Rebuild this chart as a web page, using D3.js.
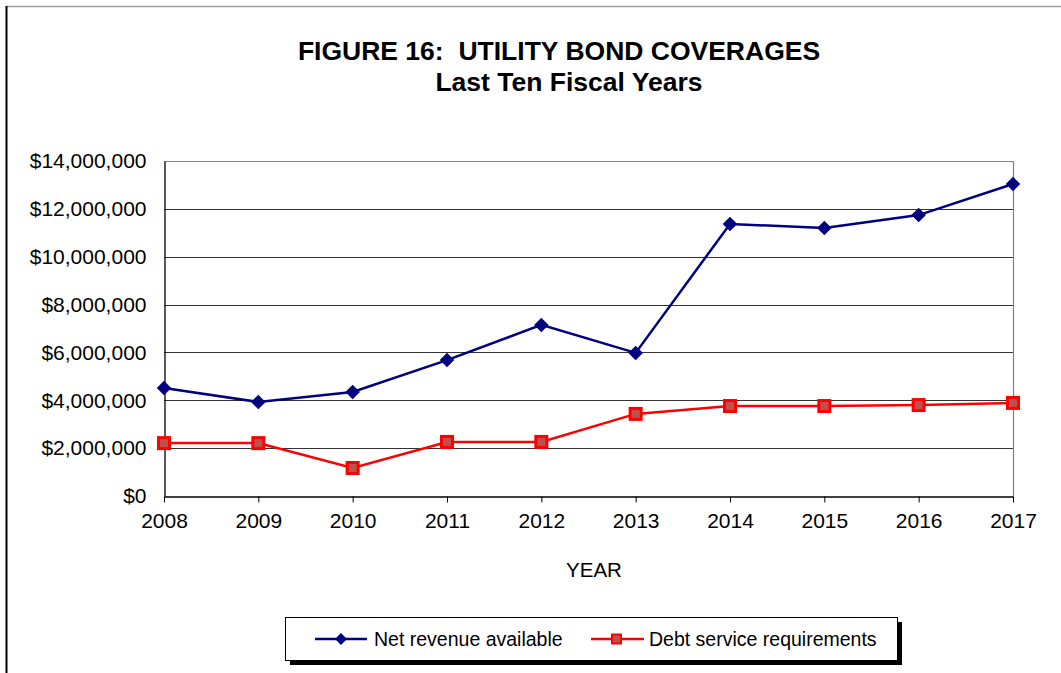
<!DOCTYPE html>
<html>
<head>
<meta charset="utf-8">
<style>
  body { margin: 0; background: #fff; }
  svg { display: block; }
</style>
</head>
<body>
<svg width="1061" height="673" font-family="'Liberation Sans', Arial, sans-serif"></svg>

<script src="https://d3js.org/d3.v7.min.js"></script>

<script>

var years = [2008, 2009, 2010, 2011, 2012, 2013, 2014, 2015, 2016, 2017];
var netRevenue = [4510000, 3930000, 4350000, 5680000, 7150000, 5980000, 11370000, 11200000, 11740000, 13040000];
var debtService = [2210000, 2210000, 1170000, 2260000, 2260000, 3430000, 3760000, 3760000, 3800000, 3890000];
var yTicks = [0, 2000000, 4000000, 6000000, 8000000, 10000000, 12000000, 14000000];

var svg = d3.select("svg"),
    width = +svg.attr("width"),
    height = +svg.attr("height");

var margin = {top: 161, right: 48, bottom: 177, left: 164};

// outer frame (only top and left edges are visible)
svg.append("line")
    .attr("x1", 6.5).attr("x2", width).attr("y1", 6.5).attr("y2", 6.5)
    .attr("stroke", "#a0a0a0").attr("stroke-width", 1.5);
svg.append("line")
    .attr("x1", 6.5).attr("x2", 6.5).attr("y1", 6).attr("y2", height)
    .attr("stroke", "#000").attr("stroke-width", 2);

// title
svg.append("text")
    .attr("x", 559).attr("y", 60)
    .attr("text-anchor", "middle")
    .attr("font-weight", "bold").attr("font-size", 26.5)
    .attr("xml:space", "preserve")
    .text("FIGURE 16:  UTILITY BOND COVERAGES");
svg.append("text")
    .attr("x", 569).attr("y", 91)
    .attr("text-anchor", "middle")
    .attr("font-weight", "bold").attr("font-size", 26.5)
    .text("Last Ten Fiscal Years");

var x = d3.scalePoint()
    .domain(years)
    .range([margin.left, width - margin.right]);

var y = d3.scaleLinear()
    .domain([0, 14000000])
    .range([height - margin.bottom, margin.top]);

var fmt = d3.format("$,");

// gridlines
svg.append("g")
    .selectAll("line")
    .data(yTicks.slice(1))
    .enter().append("line")
      .attr("x1", margin.left).attr("x2", width - margin.right)
      .attr("y1", function(d) { return Math.round(y(d)) + 0.5; })
      .attr("y2", function(d) { return Math.round(y(d)) + 0.5; })
      .attr("stroke", function(d) { return d === 14000000 ? "#808080" : "#333"; })
      .attr("stroke-width", 1.2);

// right border of plot
svg.append("line")
    .attr("x1", width - margin.right + 0.5).attr("x2", width - margin.right + 0.5)
    .attr("y1", margin.top).attr("y2", height - margin.bottom)
    .attr("stroke", "#808080").attr("stroke-width", 1.2);

// y axis
var yAxis = svg.append("g")
    .attr("transform", "translate(" + (margin.left + 0.5) + ",0)")
    .call(d3.axisLeft(y).tickValues(yTicks).tickFormat(fmt).tickSize(0).tickPadding(18));
yAxis.select(".domain").attr("stroke", "#000").attr("stroke-width", 1.3);
yAxis.selectAll("text")
    .attr("font-size", 21).attr("fill", "#000")
    .attr("font-family", "'Liberation Sans', Arial, sans-serif");

// x axis
var xAxis = svg.append("g")
    .attr("transform", "translate(0," + (Math.round(y(0)) + 0.5) + ")")
    .call(d3.axisBottom(x).tickSize(6).tickSizeOuter(0).tickPadding(11));
xAxis.select(".domain").attr("stroke", "#000").attr("stroke-width", 1.3);
xAxis.selectAll(".tick line").attr("stroke", "#000");
xAxis.selectAll("text")
    .attr("font-size", 21).attr("fill", "#000")
    .attr("font-family", "'Liberation Sans', Arial, sans-serif");

svg.append("text")
    .attr("x", 594).attr("y", 577)
    .attr("text-anchor", "middle")
    .attr("font-size", 20.5)
    .text("YEAR");

var line = d3.line()
    .x(function(d, i) { return x(years[i]); })
    .y(function(d) { return y(d); });

var diamond = d3.symbol().type(d3.symbolDiamond2).size(135);

// net revenue
svg.append("path")
    .datum(netRevenue)
    .attr("fill", "none")
    .attr("stroke", "#000080")
    .attr("stroke-width", 2.5)
    .attr("d", line);

svg.append("g")
    .selectAll("path")
    .data(netRevenue)
    .enter().append("path")
      .attr("transform", function(d, i) { return "translate(" + x(years[i]) + "," + y(d) + ")"; })
      .attr("d", diamond)
      .attr("fill", "#000080");

// debt service
svg.append("path")
    .datum(debtService)
    .attr("fill", "none")
    .attr("stroke", "#ff0000")
    .attr("stroke-width", 2.5)
    .attr("d", line);

svg.append("g")
    .selectAll("rect")
    .data(debtService)
    .enter().append("rect")
      .attr("x", function(d, i) { return x(years[i]) - 5.5; })
      .attr("y", function(d) { return y(d) - 5.5; })
      .attr("width", 11).attr("height", 11)
      .attr("fill", "#c0504d")
      .attr("stroke", "#ff0000")
      .attr("stroke-width", 3);

// legend
var legend = svg.append("g");
legend.append("rect")
    .attr("x", 290).attr("y", 622).attr("width", 612).attr("height", 43)
    .attr("fill", "#000");
legend.append("rect")
    .attr("x", 285.5).attr("y", 617.5).attr("width", 612).attr("height", 43)
    .attr("fill", "#fff").attr("stroke", "#000").attr("stroke-width", 1);

legend.append("line")
    .attr("x1", 315).attr("x2", 367).attr("y1", 639).attr("y2", 639)
    .attr("stroke", "#000080").attr("stroke-width", 2.5);
legend.append("path")
    .attr("transform", "translate(341,639)")
    .attr("d", d3.symbol().type(d3.symbolDiamond2).size(90))
    .attr("fill", "#000080");
legend.append("text")
    .attr("x", 374).attr("y", 646)
    .attr("font-size", 19.5)
    .text("Net revenue available");

legend.append("line")
    .attr("x1", 591).attr("x2", 644).attr("y1", 639).attr("y2", 639)
    .attr("stroke", "#ff0000").attr("stroke-width", 2.5);
legend.append("rect")
    .attr("x", 612).attr("y", 634.5).attr("width", 9).attr("height", 9)
    .attr("fill", "#c0504d").attr("stroke", "#ff0000").attr("stroke-width", 2);
legend.append("text")
    .attr("x", 649).attr("y", 646)
    .attr("font-size", 19.5)
    .text("Debt service requirements");

</script>
</body>
</html>
